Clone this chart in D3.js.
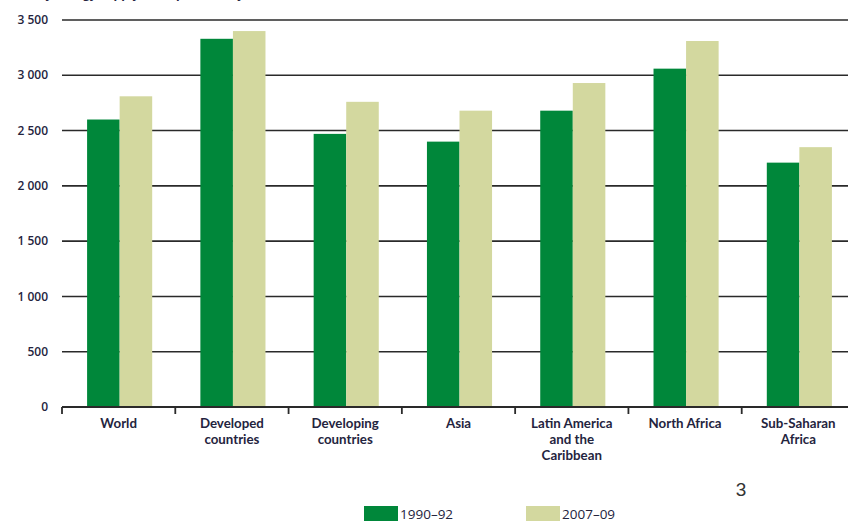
<!DOCTYPE html>
<html>
<head>
<meta charset="utf-8">
<script src="https://cdn.jsdelivr.net/npm/d3@7"></script>
<style>
  html, body { margin: 0; padding: 0; background: #fff; }
  svg { display: block; }
</style>
</head>
<body>
<svg id="chart" width="848" height="521"></svg>
<script>
// Dietary energy supply, kcal per person per day
const categories = [
  ["World"],
  ["Developed", "countries"],
  ["Developing", "countries"],
  ["Asia"],
  ["Latin America", "and the", "Caribbean"],
  ["North Africa"],
  ["Sub-Saharan", "Africa"]
];
const seriesNames = ["1990–92", "2007–09"];
const values1990 = [2600, 3330, 2470, 2400, 2680, 3060, 2210];
const values2007 = [2810, 3400, 2760, 2680, 2930, 3310, 2350];
const yTicks = [0, 500, 1000, 1500, 2000, 2500, 3000, 3500];
const colors = ["#00873a", "#d3d89f"];

const svg = d3.select("#chart");
const x0 = 62, x1 = 855, yTop = 20, yBase = 407;
const labelColor = "#24243e";

const x = d3.scaleBand()
  .domain(d3.range(categories.length))
  .range([x0, x1]);
const xs = d3.scaleBand()
  .domain([0, 1])
  .range([0, x.bandwidth()])
  .paddingInner(0)
  .paddingOuter(0.74);
const y = d3.scaleLinear().domain([0, 3500]).range([yBase, yTop]);

const fmt = v => d3.format(",")(v).replace(/,/g, " ");

// Title, running off the top edge
svg.append("text")
  .attr("x", 8).attr("y", -2)
  .attr("font-family", "Open Sans").attr("font-weight", 700)
  .attr("font-size", 12).attr("fill", labelColor)
  .text("Dietary energy supply (kcal/person/day)");

// Horizontal gridlines
svg.append("g").selectAll("line")
  .data(yTicks.filter(d => d > 0))
  .join("line")
  .attr("x1", x0).attr("x2", 848)
  .attr("y1", d => y(d)).attr("y2", d => y(d))
  .attr("stroke", "#2a2a2a").attr("stroke-width", 1.6);

// Y tick labels
svg.append("g").selectAll("text")
  .data(yTicks)
  .join("text")
  .attr("x", 48).attr("y", d => y(d))
  .attr("dy", "0.35em")
  .attr("text-anchor", "end")
  .attr("font-family", "Open Sans").attr("font-weight", 600)
  .attr("font-size", 12).attr("fill", labelColor)
  .text(fmt);

// Bars
const groups = svg.append("g").selectAll("g")
  .data(categories.map((c, i) => ({ i, v: [values1990[i], values2007[i]] })))
  .join("g")
  .attr("transform", d => `translate(${x(d.i) + 1},0)`);
groups.selectAll("rect")
  .data(d => d.v.map((v, k) => ({ v, k })))
  .join("rect")
  .attr("x", d => xs(d.k))
  .attr("width", xs.bandwidth())
  .attr("y", d => y(d.v))
  .attr("height", d => yBase - y(d.v))
  .attr("fill", d => colors[d.k]);

// Baseline axis with ticks at category boundaries
svg.append("line")
  .attr("x1", x0).attr("x2", 848)
  .attr("y1", yBase).attr("y2", yBase)
  .attr("stroke", "#2a2a2a").attr("stroke-width", 1.8);
svg.append("g").selectAll("line")
  .data(d3.range(categories.length))
  .join("line")
  .attr("x1", d => x(d)).attr("x2", d => x(d))
  .attr("y1", yBase).attr("y2", yBase + 7)
  .attr("stroke", "#2a2a2a").attr("stroke-width", 1.8);

// Category labels, one text per line
const lines = categories.flatMap((c, i) => c.map((t, j) => ({ t, i, j })));
svg.append("g").selectAll("text")
  .data(lines)
  .join("text")
  .attr("x", d => x(d.i) + x.bandwidth() / 2)
  .attr("y", d => 428 + d.j * 16)
  .attr("text-anchor", "middle")
  .attr("font-family", "Lato").attr("font-weight", 700)
  .attr("font-size", 13.3).attr("fill", labelColor)
  .text(d => d.t);

// Page number
svg.append("text")
  .attr("x", 741).attr("y", 496)
  .attr("text-anchor", "middle")
  .attr("font-family", "Liberation Sans")
  .attr("font-size", 19).attr("fill", "#333")
  .text("3");

// Legend
const legendX = [364, 526];
const leg = svg.append("g").selectAll("g")
  .data(seriesNames)
  .join("g")
  .attr("transform", (d, i) => `translate(${legendX[i]},506)`);
leg.append("rect")
  .attr("width", 34).attr("height", 15)
  .attr("fill", (d, i) => colors[i]);
leg.append("text")
  .attr("x", 36).attr("y", 12.5)
  .attr("font-family", "Open Sans").attr("font-weight", 500)
  .attr("font-size", 13.5).attr("fill", labelColor)
  .text(d => d);
</script>
</body>
</html>
